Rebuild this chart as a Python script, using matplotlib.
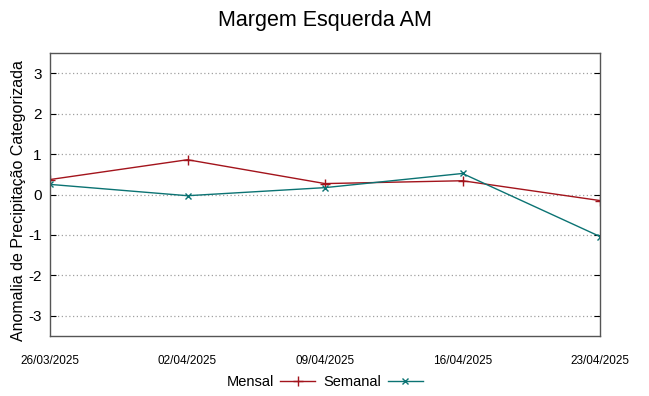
import matplotlib
matplotlib.use("Agg")
import matplotlib.pyplot as plt

plt.rcParams['font.family'] = ['Liberation Sans', 'DejaVu Sans']

datas = ["26/03/2025", "02/04/2025", "09/04/2025", "16/04/2025", "23/04/2025"]
mensal = [0.37, 0.86, 0.27, 0.34, -0.15]
semanal = [0.25, -0.03, 0.17, 0.52, -1.04]
yticks = [-3, -2, -1, 0, 1, 2, 3]

cor_mensal = "#a3141c"
cor_semanal = "#0b7373"

fig = plt.figure(figsize=(6.49, 3.96), dpi=100)
ax = fig.add_axes([50 / 649, 1 - 336 / 396, 550 / 649, 283 / 396])

x = list(range(len(datas)))
ax.plot(x, mensal, color=cor_mensal, lw=1, marker='+', ms=7, mew=1, label="Mensal")
ax.plot(x, semanal, color=cor_semanal, lw=1, marker='x', ms=5, mew=1, label="Semanal")

ax.set_xlim(0, len(datas) - 1)
ax.set_ylim(-3.5, 3.5)
ax.set_xticks(x)
ax.set_xticklabels(datas, fontsize=8.5)
ax.set_yticks(yticks)
ax.set_yticklabels([str(v) for v in yticks], fontsize=11)
ax.tick_params(axis='x', length=0, pad=14)
ax.tick_params(axis='y', direction='in', length=4, right=True, pad=6)
ax.yaxis.grid(True, linestyle=(0, (1, 2)), color='#a0a0a0', lw=0.9)
for s in ax.spines.values():
    s.set_color('#555555')
    s.set_linewidth(1)

ax.set_ylabel("Anomalia de Precipitação Categorizada", fontsize=11.5)
ax.yaxis.set_label_coords(-0.044, 0.477)
fig.suptitle("Margem Esquerda AM", fontsize=15.5, y=0.975)

fig.legend(loc='center', bbox_to_anchor=(0.5, 1 - 382 / 396), ncol=2, frameon=False,
           markerfirst=False, fontsize=10.5, handlelength=2.4, columnspacing=0.55,
           handletextpad=0.45)

fig.savefig("out.png", dpi=100)
